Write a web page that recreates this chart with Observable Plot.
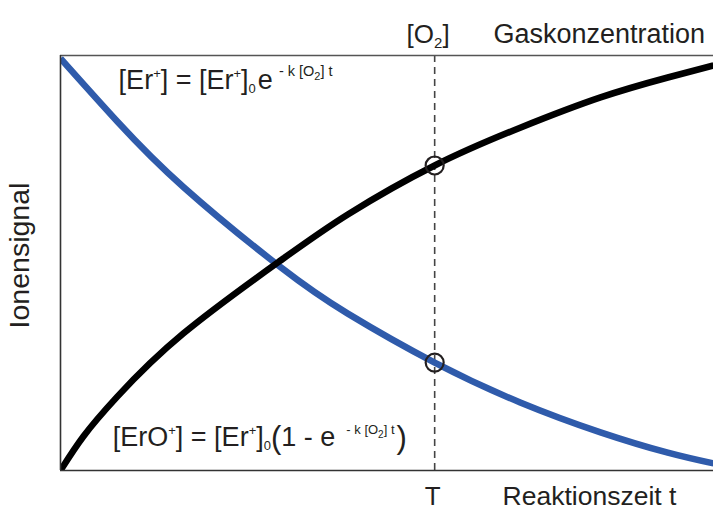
<!DOCTYPE html>
<html>
<head>
<meta charset="utf-8">
<script src="https://cdn.jsdelivr.net/npm/d3@7"></script>
<script src="https://cdn.jsdelivr.net/npm/@observablehq/plot@0.6"></script>
<style>
  html, body { margin: 0; padding: 0; background: #fff; }
  #chart svg { display: block; }
</style>
</head>
<body>
<div id="chart"></div>
<script>
// ---- data (reaction time t in arbitrary units 0..10, ion signal 0..100) ----
const erTime   = [0, 0.87, 1.89, 3.37, 4.40, 5.73, 7.04, 8.27, 9.30, 10];
const erSignal = [99.3, 84.1, 68.2, 49.0, 37.8, 26.0, 16.4, 9.2, 4.3, 1.7];

const eroTime   = [0, 0.35, 0.87, 1.88, 3.37, 4.40, 5.73, 7.04, 8.27, 9.30, 10];
const eroSignal = [0, 8.2, 17.8, 33.0, 50.6, 61.7, 73.5, 82.6, 89.9, 94.7, 97.6];

const markerTime = [5.73];
const markerSignal = [26.0, 73.5];

const xLabel = "Reaktionszeit t";
const xTickLabel = "T";
const yLabel = "Ionensignal";
const topLabel = "Gaskonzentration";
const topTickLabel = "[O2]";
const eq1Key = "EQ1";
const eq2Key = "EQ2";

const erData  = erTime.map((t, i) => ({t, v: erSignal[i]}));
const eroData = eroTime.map((t, i) => ({t, v: eroSignal[i]}));
const markers = markerSignal.map(v => ({t: markerTime[0], v}));

const FONT = "'Liberation Sans', Arial, Helvetica, sans-serif";
const INK = "#231f20";
const BLUE = "#2f5bab";

const plot = Plot.plot({
  width: 713,
  height: 508,
  marginLeft: 60,
  marginRight: 0,
  marginTop: 55,
  marginBottom: 38,
  style: {fontFamily: FONT, background: "#fff", overflow: "visible"},
  x: {domain: [0, 10], axis: null},
  y: {domain: [0, 100], axis: null},
  marks: [
    Plot.ruleX(markerTime, {stroke: "#444", strokeWidth: 1.6, strokeDasharray: "7,5"}),
    Plot.line(erData,  {x: "t", y: "v", stroke: BLUE, strokeWidth: 6.5, curve: "natural", clip: true, strokeLinecap: "butt"}),
    Plot.line(eroData, {x: "t", y: "v", stroke: "#000", strokeWidth: 6.5, curve: "natural", clip: true, strokeLinecap: "butt"}),
    Plot.ruleY([0],   {stroke: "#333", strokeWidth: 1.6}),
    Plot.ruleY([100], {stroke: "#555", strokeWidth: 1.6}),
    Plot.ruleX([0],   {stroke: "#333", strokeWidth: 1.6}),
    Plot.dot(markers, {x: "t", y: "v", r: 9, stroke: INK, strokeWidth: 2.2, fill: "none"}),
    // labels
    Plot.text([topLabel], {x: 6.63, y: 105.1, text: d => d, textAnchor: "start", fontSize: 27, fill: INK}),
    Plot.text([topTickLabel], {x: 5.30, y: 105.1, text: d => d, textAnchor: "start", fontSize: 26, fill: INK}),
    Plot.text([xTickLabel], {x: 5.70, y: -6.3, text: d => d, textAnchor: "middle", fontSize: 26, fill: INK}),
    Plot.text([xLabel], {x: 6.77, y: -6.3, text: d => d, textAnchor: "start", fontSize: 26.5, fill: INK}),
    Plot.text([yLabel], {x: -0.62, y: 51.8, text: d => d, rotate: -90, textAnchor: "middle", fontSize: 28.5, fill: INK}),
    Plot.text([eq1Key], {x: 0.89, y: 93.9, text: d => d, textAnchor: "start", fontSize: 27, fill: INK}),
    Plot.text([eq2Key], {x: 0.80, y: 8.1, text: d => d, textAnchor: "start", fontSize: 27, fill: INK})
  ]
});

document.getElementById("chart").appendChild(plot);

// rich text (sub/superscripts) via tspans
function rich(key, segs) {
  d3.select(plot).selectAll("text").filter(function() { return this.textContent === key; })
    .each(function() {
      const el = d3.select(this);
      el.text(null);
      let shift = 0;
      segs.forEach(s => {
        const target = s.shift || 0;
        const ts = el.append("tspan").text(s.t).attr("font-size", s.size);
        ts.attr("dy", target - shift);
        if (s.dx) ts.attr("dx", s.dx);
        shift = target;
      });
    });
}
rich(topTickLabel, [
  {t: "[O", size: 26},
  {t: "2", size: 15, shift: 5},
  {t: "]", size: 26}
]);
rich(eq1Key, [
  {t: "[Er", size: 27},
  {t: "+", size: 13, shift: -11},
  {t: "] = [Er", size: 27},
  {t: "+", size: 13, shift: -11},
  {t: "]", size: 27},
  {t: "0", size: 13, shift: 4},
  {t: "e", size: 27, dx: 2},
  {t: "- k [O", size: 14.5, shift: -13, dx: 6},
  {t: "2", size: 11, shift: -9},
  {t: "] t", size: 14.5, shift: -13}
]);
rich(eq2Key, [
  {t: "[ErO", size: 27},
  {t: "+", size: 13, shift: -11},
  {t: "] = [Er", size: 27},
  {t: "+", size: 13, shift: -11},
  {t: "]", size: 27},
  {t: "0", size: 13, shift: 4},
  {t: "(", size: 31, shift: 2},
  {t: "1 - e", size: 27},
  {t: "- k [O", size: 13, shift: -12, dx: 11},
  {t: "2", size: 10, shift: -8},
  {t: "] t", size: 13, shift: -12},
  {t: ")", size: 31, shift: 2, dx: 2}
]);
</script>
</body>
</html>
